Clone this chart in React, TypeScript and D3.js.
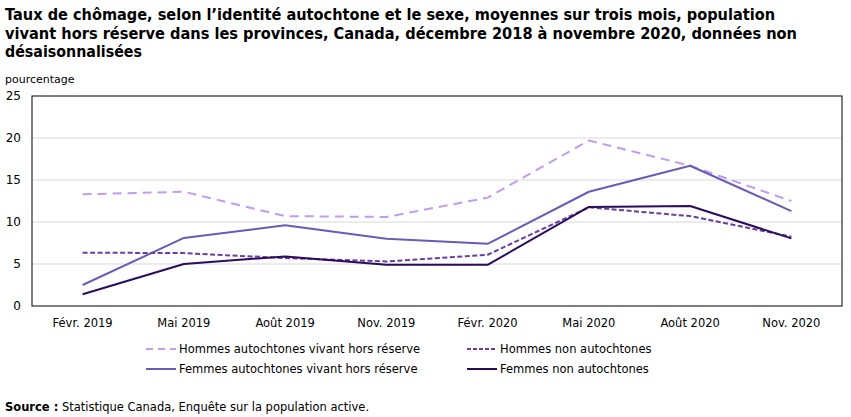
import React from 'react';
import * as d3 from 'd3';

const periods = ['Févr. 2019', 'Mai 2019', 'Août 2019', 'Nov. 2019', 'Févr. 2020', 'Mai 2020', 'Août 2020', 'Nov. 2020'];

const hommesAutochtones = [13.3, 13.6, 10.7, 10.6, 12.9, 19.7, 16.7, 12.5];
const femmesAutochtones = [2.5, 8.1, 9.6, 8.0, 7.4, 13.6, 16.7, 11.3];
const hommesNonAutochtones = [6.35, 6.3, 5.7, 5.3, 6.1, 11.75, 10.7, 8.25];
const femmesNonAutochtones = [1.4, 5.0, 5.9, 4.9, 4.9, 11.8, 11.9, 8.05];

const yTicks = [0, 5, 10, 15, 20, 25];

type Series = {
  label: string;
  values: number[];
  color: string;
  dash: string | null;
  legendDash: string | null;
};

const series: Series[] = [
  { label: 'Hommes autochtones vivant hors réserve', values: hommesAutochtones, color: '#bf9cef', dash: '9,6', legendDash: '7,5' },
  { label: 'Hommes non autochtones', values: hommesNonAutochtones, color: '#6a3ea0', dash: '5,2.5', legendDash: '4,2' },
  { label: 'Femmes autochtones vivant hors réserve', values: femmesAutochtones, color: '#6c5ab8', dash: null, legendDash: null },
  { label: 'Femmes non autochtones', values: femmesNonAutochtones, color: '#2b0b5c', dash: null, legendDash: null },
];

const font = 'Tahoma, Verdana, "DejaVu Sans", sans-serif';

const plot = { left: 32, right: 842, top: 96, bottom: 306 };

export default function App() {
  const x = d3.scalePoint<string>().domain(periods).range([plot.left, plot.right]).padding(0.5);
  const y = d3.scaleLinear().domain([0, 25]).range([plot.bottom, plot.top]);

  const line = d3.line<number>()
    .x((_, i) => x(periods[i])!)
    .y(d => y(d));

  // draw order: light lines first so the dark ones sit on top
  const drawOrder = [0, 2, 1, 3];

  const legendCols = [146, 467];
  const legendRows = [349, 369];

  return (
    <svg width={851} height={417} style={{ position: 'absolute', left: 0, top: 0 }} fontFamily={font}>
      <rect width={851} height={417} fill="#fff" />
      <g fontWeight="bold" fontSize={15} fill="#000">
        <text x={5} y={20} textLength={770} lengthAdjust="spacingAndGlyphs">Taux de chômage, selon l’identité autochtone et le sexe, moyennes sur trois mois, population</text>
        <text x={5} y={39} textLength={792} lengthAdjust="spacingAndGlyphs">vivant hors réserve dans les provinces, Canada, décembre 2018 à novembre 2020, données non</text>
        <text x={5} y={57} textLength={137} lengthAdjust="spacingAndGlyphs">désaisonnalisées</text>
      </g>

      <text x={5} y={83} fontSize={11} fill="#000">pourcentage</text>

      {yTicks.filter(t => t > 0 && t < 25).map(t => (
        <line key={t} x1={plot.left} x2={plot.right} y1={y(t)} y2={y(t)} stroke="#d9d9d9" strokeWidth={1} />
      ))}
      <rect x={plot.left} y={plot.top} width={plot.right - plot.left} height={plot.bottom - plot.top}
        fill="none" stroke="#000" strokeWidth={1} />

      {yTicks.map(t => (
        <text key={t} x={21} y={y(t) + 4} textAnchor="end" fontSize={12} fill="#000">{t}</text>
      ))}
      {periods.map(p => (
        <text key={p} x={x(p)} y={327} textAnchor="middle" fontSize={11.5} fill="#000">{p}</text>
      ))}

      {drawOrder.map(i => {
        const s = series[i];
        return (
          <path key={s.label} d={line(s.values) ?? ''} fill="none" stroke={s.color} strokeWidth={2}
            strokeDasharray={s.dash ?? undefined} strokeLinejoin="round" />
        );
      })}

      {series.map((s, i) => {
        const lx = legendCols[i % 2];
        const ly = legendRows[Math.floor(i / 2)];
        return (
          <g key={s.label}>
            <line x1={lx} x2={lx + 30} y1={ly} y2={ly} stroke={s.color} strokeWidth={2}
              strokeDasharray={s.legendDash ?? undefined} />
            <text x={lx + 33} y={ly + 4} fontSize={11.5} fill="#000">{s.label}</text>
          </g>
        );
      })}

      <text x={5} y={411} fontSize={11.5} fill="#000">
        <tspan fontWeight="bold">Source :</tspan> Statistique Canada, Enquête sur la population active.
      </text>
    </svg>
  );
}
